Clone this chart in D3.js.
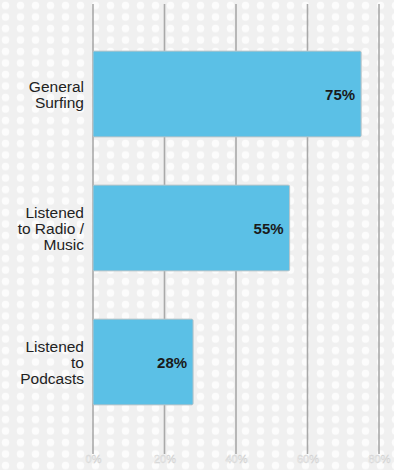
<!DOCTYPE html>
<html>
<head>
<meta charset="utf-8">
<script src="https://cdn.jsdelivr.net/npm/d3@7"></script>
<style>
  html, body { margin: 0; padding: 0; background: #f1f1f1; }
  svg { display: block; }
</style>
</head>
<body>
<div id="chart"></div>
<script>
// Activity categories (each label split over lines)
const categories = [
  ["General", "Surfing"],
  ["Listened", "to Radio /", "Music"],
  ["Listened", "to", "Podcasts"]
];
// Share of respondents, in percent
const values = [75, 55, 28];
// Axis ticks
const tickValues = [0, 20, 40, 60, 80];

const width = 394, height = 470;
const svg = d3.select("#chart").append("svg")
  .attr("width", width).attr("height", height);

// Dotted backdrop
const defs = svg.append("defs");
const pat = defs.append("pattern")
  .attr("id", "dots")
  .attr("patternUnits", "userSpaceOnUse")
  .attr("width", 15).attr("height", 11.5)
  .attr("x", -2).attr("y", 0);
pat.append("rect").attr("width", 15).attr("height", 11.5).attr("fill", "#f0f0f0");
pat.append("circle").attr("cx", 7.5).attr("cy", 5.5).attr("r", 3.8).attr("fill", "#fcfcfc");
svg.append("rect").attr("width", width).attr("height", height).attr("fill", "url(#dots)");

const x = d3.scaleLinear().domain([0, 80]).range([93, 379]);
const keys = categories.map((c, i) => i);
const y = d3.scaleBand().domain(keys).range([27, 429])
  .paddingInner(0.36).paddingOuter(0.18);

// Vertical grid lines
svg.append("g").selectAll("line").data(tickValues).join("line")
  .attr("x1", d => x(d)).attr("x2", d => x(d))
  .attr("y1", 4).attr("y2", 454)
  .attr("stroke", "#a9a9a9").attr("stroke-width", 1.6);

// Tick labels
const axis = svg.append("g").attr("transform", "translate(0,467)")
  .call(d3.axisBottom(x).tickValues(tickValues).tickSize(0).tickFormat(d => d + "%"));
axis.select(".domain").remove();
axis.selectAll("text")
  .attr("y", -4).attr("dy", 0)
  .attr("font-family", "Liberation Sans, Arial, sans-serif")
  .attr("font-size", 11)
  .attr("fill", "#ffffff")
  .attr("stroke", "#d2d2d2")
  .attr("stroke-width", 0.5);

// Bars
svg.append("g").selectAll("rect").data(values).join("rect")
  .attr("x", x(0))
  .attr("y", (d, i) => y(i))
  .attr("width", d => x(d) - x(0))
  .attr("height", y.bandwidth())
  .attr("rx", 1.5)
  .attr("fill", "#5bc0e6")
  .attr("stroke", "#b9c4c8")
  .attr("stroke-width", 1);

// Value labels
svg.append("g").selectAll("text").data(values).join("text")
  .attr("x", d => x(d) - 6)
  .attr("y", (d, i) => y(i) + y.bandwidth() / 2 + 5.5)
  .attr("text-anchor", "end")
  .attr("font-family", "Liberation Sans, Arial, sans-serif")
  .attr("font-weight", "bold")
  .attr("font-size", 15)
  .attr("fill", "#1a1a1a")
  .text(d => d + "%");

// Category labels
const lineH = 16;
const labels = svg.append("g").selectAll("text").data(categories).join("text")
  .attr("text-anchor", "end")
  .attr("font-family", "Liberation Sans, Arial, sans-serif")
  .attr("font-size", 15.5)
  .attr("fill", "#222");
labels.each(function(lines, i) {
  const cy = y(i) + y.bandwidth() / 2;
  const first = cy - (lines.length - 1) * lineH / 2 + 5.5;
  d3.select(this).selectAll("tspan").data(lines).join("tspan")
    .attr("x", 84)
    .attr("y", (d, j) => first + j * lineH)
    .text(d => d);
});
</script>
</body>
</html>
